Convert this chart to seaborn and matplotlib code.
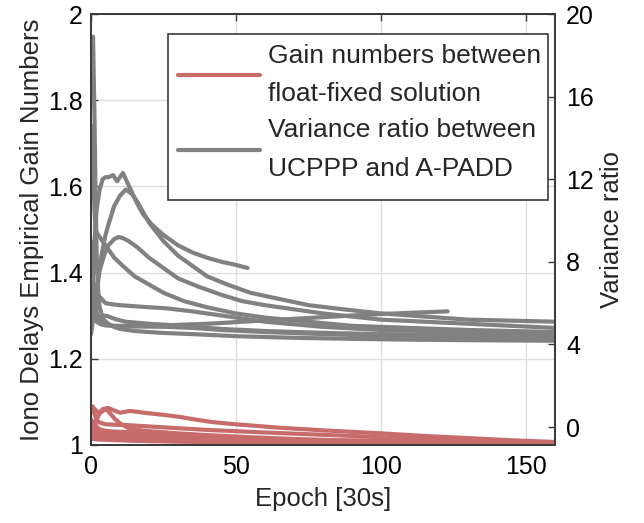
import matplotlib
matplotlib.use("Agg")
import matplotlib.pyplot as plt
import seaborn as sns
from matplotlib.lines import Line2D
from matplotlib.patches import Rectangle

# ---------------- data ----------------
# Gray curves: variance ratio between UCPPP and A-PADD (right axis)
g1_t = [0, 0.7, 1.2, 1.6, 2, 2.5, 3, 4, 5, 7, 10, 15, 20, 26, 35, 50, 70, 90, 110, 135, 160]
g1_v = [18.9, 18.9, 15, 11, 8, 6.5, 5.8, 5.3, 5.1, 4.9, 4.75, 4.65, 4.6, 4.55, 4.5, 4.4, 4.32, 4.27, 4.23, 4.2, 4.18]
g2_t = [0, 0.6, 1.2, 1.6, 2, 3, 4, 6, 8, 11, 15, 20, 25, 32, 40, 50, 60, 75, 90, 110, 130, 145, 160]
g2_v = [14.6, 13, 10.5, 9.6, 9.4, 9.2, 9.0, 8.6, 8.2, 7.8, 7.3, 6.9, 6.5, 6.1, 5.8, 5.5, 5.3, 5.1, 4.9, 4.8, 4.7, 4.65, 4.6]
g3_t = [0, 0.5, 1, 1.5, 2, 3, 4, 5, 6, 7.6, 9, 10, 11, 12, 14, 16, 18, 21, 25, 30, 35, 40, 45, 50, 54]
g3_v = [5.0, 6.5, 8.3, 9.7, 10.6, 11.5, 12.0, 12.1, 12.1, 12.2, 11.9, 12.1, 12.3, 12.0, 11.4, 10.8, 10.3, 9.8, 9.3, 8.8, 8.45, 8.2, 8.0, 7.85, 7.7]
g4_t = [1, 2, 3, 4, 5, 6, 8, 10, 12, 14, 16, 18, 20, 25, 30, 35, 40, 47, 55, 65, 75, 87, 100, 115, 130, 145, 160]
g4_v = [5.5, 6.8, 7.8, 8.6, 9.3, 9.8, 10.7, 11.2, 11.5, 11.3, 10.9, 10.4, 9.9, 9.0, 8.3, 7.8, 7.3, 6.9, 6.5, 6.2, 5.9, 5.7, 5.5, 5.35, 5.2, 5.15, 5.1]
g5_t = [0, 1, 2, 3, 4.5, 6, 8, 9.5, 11, 13, 16, 20, 25, 30, 37, 45, 52, 60, 70, 80, 90, 100, 115, 130, 145, 160]
g5_v = [4.5, 5.5, 6.6, 7.6, 8.3, 8.8, 9.1, 9.2, 9.15, 9.0, 8.7, 8.2, 7.7, 7.2, 6.8, 6.4, 6.1, 5.9, 5.7, 5.5, 5.35, 5.2, 5.1, 5.0, 4.9, 4.8]
g6_t = [0, 0.5, 1, 1.5, 2, 3, 4, 6, 8, 11, 15, 20, 25, 32, 40, 50, 60, 70, 80, 90, 100, 110, 123]
g6_v = [8.0, 7.2, 6.5, 6.0, 5.5, 5.2, 5.0, 4.95, 4.9, 4.9, 4.9, 4.9, 4.92, 4.96, 5.0, 5.08, 5.16, 5.24, 5.32, 5.4, 5.47, 5.53, 5.6]
g7_t = [0, 0.5, 1, 1.5, 2, 3, 4, 5, 7, 10, 15, 20, 26, 35, 45, 60, 80, 100, 130, 160]
g7_v = [9.0, 7.5, 6.0, 5.4, 5.1, 5.0, 4.95, 4.92, 4.9, 4.88, 4.87, 4.86, 4.85, 4.8, 4.7, 4.6, 4.5, 4.42, 4.33, 4.28]
g8_t = [0, 0.5, 1, 2, 3, 4, 5.5, 7, 9, 12, 16, 20, 26, 35, 45, 60, 80, 100, 130, 160]
g8_v = [7.0, 6.2, 5.5, 5.2, 5.3, 5.4, 5.38, 5.3, 5.2, 5.1, 5.05, 5.0, 4.95, 4.85, 4.75, 4.65, 4.56, 4.5, 4.45, 4.4]
g9_t = [0, 1, 2, 3, 5, 7, 10, 15, 20, 26, 35, 45, 60, 80, 100, 130, 160]
g9_v = [6.0, 6.4, 6.5, 6.3, 6.0, 5.95, 5.9, 5.85, 5.8, 5.75, 5.6, 5.4, 5.1, 4.85, 4.7, 4.6, 4.5]

# Red curves: gain numbers between float-fixed solution (left axis)
r1_t = [0.7, 2, 3.1, 4.5, 5.9, 8, 10, 13.4, 16, 19.3, 25, 30.7, 36, 42, 50, 65, 80, 100, 115, 130, 145, 160]
r1_v = [1.088, 1.078, 1.074, 1.081, 1.086, 1.080, 1.075, 1.079, 1.077, 1.074, 1.070, 1.065, 1.059, 1.053, 1.048, 1.040, 1.034, 1.027, 1.021, 1.016, 1.011, 1.007]
r2_t = [0.5, 1, 2, 3, 5, 8, 13, 20, 30, 40, 50, 60, 75, 90, 110, 130, 145, 160]
r2_v = [1.090, 1.075, 1.058, 1.052, 1.048, 1.047, 1.046, 1.043, 1.039, 1.035, 1.032, 1.029, 1.025, 1.021, 1.015, 1.010, 1.007, 1.005]
r3_t = [0, 1, 2, 3, 4, 5, 6, 8, 10, 13, 16, 20, 30, 40, 55, 70, 90, 120, 160]
r3_v = [1.020, 1.040, 1.060, 1.075, 1.083, 1.085, 1.078, 1.062, 1.050, 1.039, 1.035, 1.032, 1.027, 1.023, 1.018, 1.014, 1.010, 1.006, 1.003]
r4_t = [0, 1, 2, 3, 5, 8, 13, 20, 30, 42, 54]
r4_v = [1.060, 1.050, 1.042, 1.036, 1.033, 1.031, 1.030, 1.027, 1.022, 1.019, 1.016]
r5_t = [0, 1, 2.5, 5, 9, 13, 20, 30, 45, 60, 80, 100, 123]
r5_v = [1.040, 1.034, 1.029, 1.025, 1.024, 1.023, 1.021, 1.018, 1.015, 1.013, 1.011, 1.010, 1.009]
r6_t = [0, 1, 2.5, 5, 9, 13, 20, 30, 45, 60, 80, 100, 130, 160]
r6_v = [1.030, 1.026, 1.022, 1.020, 1.018, 1.016, 1.014, 1.012, 1.010, 1.008, 1.006, 1.005, 1.004, 1.003]
r7_t = [0, 2, 5, 10, 20, 35, 50, 75, 100, 130, 160]
r7_v = [1.015, 1.013, 1.012, 1.011, 1.010, 1.008, 1.007, 1.005, 1.004, 1.003, 1.002]
r8_t = [0, 1, 2, 3, 5, 7, 10, 15, 20, 30, 50, 80, 120, 160]
r8_v = [1.050, 1.038, 1.028, 1.020, 1.016, 1.014, 1.012, 1.010, 1.009, 1.008, 1.006, 1.005, 1.004, 1.003]
r9_t = [0, 2, 4, 8, 15, 25, 40, 60, 90, 125, 160]
r9_v = [1.025, 1.020, 1.018, 1.016, 1.014, 1.012, 1.010, 1.008, 1.006, 1.005, 1.004]

gray_curves = [(g1_t, g1_v), (g2_t, g2_v), (g3_t, g3_v), (g4_t, g4_v), (g5_t, g5_v),
               (g6_t, g6_v), (g7_t, g7_v), (g8_t, g8_v), (g9_t, g9_v)]
red_curves = [(r1_t, r1_v), (r2_t, r2_v), (r3_t, r3_v), (r4_t, r4_v), (r5_t, r5_v),
              (r6_t, r6_v), (r7_t, r7_v), (r8_t, r8_v), (r9_t, r9_v)]

left_ticks = [1, 1.2, 1.4, 1.6, 1.8, 2]
left_ticklabels = ["1", "1.2", "1.4", "1.6", "1.8", "2"]
right_ticks = [0, 4, 8, 12, 16, 20]
x_ticks = [0, 50, 100, 150]

legend_labels = ["Gain numbers between\nfloat-fixed solution",
                 "Variance ratio between\nUCPPP and A-PADD"]

# ---------------- styling ----------------
sns.set_style("white")
plt.rcParams["font.family"] = ["Liberation Sans", "DejaVu Sans"]
plt.rcParams["font.size"] = 18

RED = "#C76B6B"
GRAY = "#818181"
LW = 3.0
W, H = 644, 523

fig = plt.figure(figsize=(6.44, 5.23), dpi=100)
ax = fig.add_axes([91 / W, 1 - 445 / H, (555 - 91) / W, (445 - 14) / H])
ax2 = ax.twinx()

for t, v in red_curves:
    sns.lineplot(x=t, y=v, ax=ax, color=RED, lw=LW, estimator=None, sort=False)
for t, v in gray_curves:
    sns.lineplot(x=t, y=v, ax=ax2, color=GRAY, lw=LW, estimator=None, sort=False)

ax.set_xlim(0, 160)
ax.set_ylim(1, 2)
ax2.set_ylim(-0.87, 20)

ax.set_xticks(x_ticks)
ax.set_yticks(left_ticks)
ax.set_yticklabels(left_ticklabels)
ax2.set_yticks(right_ticks)

ax.grid(True, color="#dedede", lw=1)
ax2.grid(False)

ax.set_xlabel("Epoch [30s]", fontsize=18.5, labelpad=6)
ax.set_ylabel("Iono Delays Empirical Gain Numbers", fontsize=18.5, labelpad=3)
ax2.set_ylabel("Variance ratio", fontsize=18.5, labelpad=4)

for a in (ax, ax2):
    for s in a.spines.values():
        s.set_color("#3a3a3a")
        s.set_linewidth(1.3)
    a.tick_params(direction="in", length=5, width=1, colors="#3a3a3a",
                  labelcolor="black", labelsize=18)
ax.tick_params(axis="x", top=True, pad=7)
ax.tick_params(axis="y", pad=6)
ax2.tick_params(axis="y", pad=8)

# legend frame (MATLAB-like box)
frame = Rectangle((168 / W, 1 - 200 / H), (548 - 168) / W, (200 - 34) / H,
                  transform=fig.transFigure, facecolor="white", edgecolor="#3a3a3a",
                  lw=1.2, zorder=4.8, clip_on=False)
ax2.add_patch(frame)

handles = [Line2D([0], [0], color=RED, lw=LW), Line2D([0], [0], color=GRAY, lw=LW)]
leg = ax2.legend(handles, legend_labels, loc="upper right",
                 bbox_to_anchor=(541 / W, 1 - 44 / H), bbox_transform=fig.transFigure,
                 fontsize=19, frameon=False, handlelength=3.1, handletextpad=0.3,
                 borderpad=0, labelspacing=0.45, borderaxespad=0)
leg.set_zorder(5)
for txt in leg.get_texts():
    txt.set_linespacing(1.76)

fig.savefig("out.png", dpi=100)
